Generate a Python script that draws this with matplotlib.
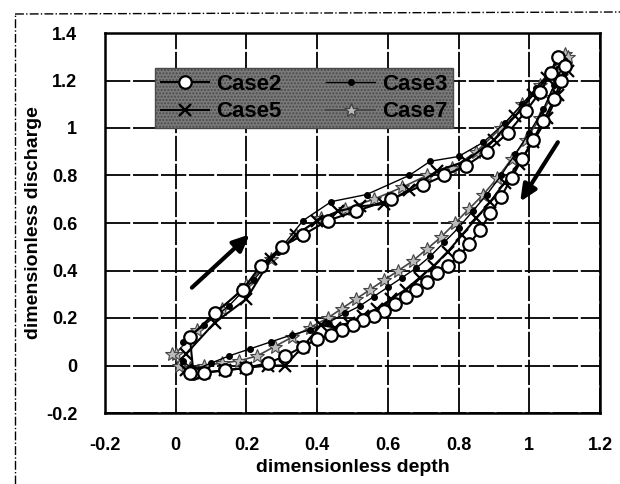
import matplotlib
matplotlib.use("Agg")
import matplotlib.pyplot as plt
from matplotlib.lines import Line2D

plt.rcParams['font.family'] = ['Liberation Sans', 'DejaVu Sans']
plt.rcParams['font.weight'] = 'bold'

# ---- data ----
case2_x = [0.05, 0.04, 0.11, 0.19, 0.24, 0.30, 0.36, 0.43, 0.51, 0.61, 0.70, 0.76, 0.82, 0.88, 0.94, 0.99, 1.03, 1.06, 1.08,
           1.10, 1.09, 1.07, 1.04, 1.01, 0.98, 0.95, 0.92, 0.89, 0.86, 0.83, 0.80, 0.77, 0.74, 0.71, 0.68, 0.65, 0.62,
           0.59, 0.56, 0.53, 0.50, 0.47, 0.44, 0.40, 0.36, 0.31, 0.26, 0.20, 0.14, 0.08, 0.04]
case2_y = [-0.03, 0.12, 0.22, 0.32, 0.42, 0.50, 0.55, 0.61, 0.65, 0.70, 0.76, 0.80, 0.84, 0.90, 0.98, 1.07, 1.15, 1.23, 1.30,
           1.26, 1.20, 1.12, 1.03, 0.95, 0.87, 0.79, 0.71, 0.64, 0.57, 0.51, 0.46, 0.42, 0.39, 0.35, 0.32, 0.29, 0.26,
           0.23, 0.21, 0.19, 0.17, 0.15, 0.13, 0.11, 0.08, 0.04, 0.01, -0.01, -0.02, -0.03, -0.03]

case3_x = [0.02, 0.08, 0.15, 0.22, 0.29, 0.36, 0.44, 0.54, 0.66, 0.72, 0.80, 0.87, 0.93, 0.98, 1.02, 1.06, 1.09,
           1.10, 1.07, 1.04, 1.00, 0.96, 0.92, 0.88, 0.84, 0.80, 0.76, 0.72, 0.68, 0.64, 0.60, 0.56, 0.52, 0.48,
           0.43, 0.38, 0.33, 0.27, 0.21, 0.15, 0.10, 0.05, 0.02]
case3_y = [0.10, 0.17, 0.25, 0.36, 0.48, 0.61, 0.69, 0.72, 0.80, 0.86, 0.88, 0.94, 1.02, 1.10, 1.17, 1.24, 1.30,
           1.28, 1.18, 1.08, 0.98, 0.89, 0.80, 0.72, 0.65, 0.58, 0.52, 0.46, 0.41, 0.37, 0.33, 0.29, 0.25, 0.22,
           0.18, 0.15, 0.13, 0.10, 0.07, 0.04, 0.01, -0.02, 0.02]

case5_x = [0.03, 0.11, 0.20, 0.27, 0.34, 0.40, 0.46, 0.52, 0.59, 0.66, 0.74, 0.82, 0.90, 0.96, 1.01, 1.05, 1.09,
           1.11, 1.08, 1.05, 1.01, 0.97, 0.93, 0.89, 0.85, 0.81, 0.77, 0.73, 0.69, 0.65, 0.61, 0.57, 0.53, 0.49,
           0.45, 0.41, 0.36, 0.31, 0.26, 0.20, 0.14, 0.08, 0.03]
case5_y = [0.05, 0.18, 0.28, 0.45, 0.55, 0.61, 0.65, 0.67, 0.68, 0.74, 0.82, 0.86, 0.95, 1.05, 1.14, 1.21, 1.27,
           1.24, 1.14, 1.04, 0.94, 0.85, 0.77, 0.69, 0.62, 0.55, 0.48, 0.42, 0.37, 0.32, 0.28, 0.24, 0.21, 0.18,
           0.16, 0.17, 0.08, 0.00, 0.00, -0.01, -0.02, -0.03, -0.02]

case7_x = [0.00, 0.06, 0.13, 0.20, 0.27, 0.34, 0.41, 0.48, 0.56, 0.64, 0.71, 0.78, 0.85, 0.92, 0.98, 1.03, 1.07, 1.10,
           1.11, 1.09, 1.06, 1.03, 0.99, 0.95, 0.91, 0.87, 0.83, 0.79, 0.75, 0.71, 0.67, 0.63, 0.59, 0.55, 0.51,
           0.47, 0.43, 0.38, 0.33, 0.28, 0.23, 0.18, 0.13, 0.08, 0.04, 0.01, -0.01]
case7_y = [0.05, 0.15, 0.24, 0.34, 0.45, 0.55, 0.62, 0.66, 0.70, 0.75, 0.80, 0.83, 0.90, 1.00, 1.10, 1.18, 1.25, 1.31,
           1.30, 1.22, 1.13, 1.04, 0.95, 0.87, 0.79, 0.72, 0.66, 0.60, 0.54, 0.49, 0.44, 0.40, 0.36, 0.32, 0.28,
           0.24, 0.20, 0.16, 0.12, 0.08, 0.04, 0.02, 0.01, 0.00, -0.01, 0.00, 0.05]

x_ticks = [-0.2, 0, 0.2, 0.4, 0.6, 0.8, 1, 1.2]
y_ticks = [-0.2, 0, 0.2, 0.4, 0.6, 0.8, 1, 1.2, 1.4]
x_tick_labels = ['-0.2', '0', '0.2', '0.4', '0.6', '0.8', '1', '1.2']
y_tick_labels = ['-0.2', '0', '0.2', '0.4', '0.6', '0.8', '1', '1.2', '1.4']

# ---- figure ----
fig = plt.figure(figsize=(6.2, 4.84), dpi=100)
ax = fig.add_axes([105/620, 71/484, 495/620, 380/484])

# scanned page border (dash-dot) on left and top
fig.add_artist(Line2D([15/620, 15/620], [0, 1 - 14/484], transform=fig.transFigure,
                      color='black', lw=1, ls='-.'))
fig.add_artist(Line2D([15/620, 1], [1 - 14/484, 1 - 12/484], transform=fig.transFigure,
                      color='black', lw=1, ls='-.'))

ax.plot(case7_x, case7_y, color='#444444', lw=1.2, marker='*', ms=10, mfc='#bbbbbb', mec='#444444', mew=0.8, zorder=3)
ax.plot(case5_x, case5_y, color='black', lw=1.5, marker='x', ms=9, mew=1.6, zorder=4)
ax.plot(case3_x, case3_y, color='black', lw=1.0, marker='o', ms=4, mfc='black', mec='black', zorder=5)
ax.plot(case2_x, case2_y, color='black', lw=1.5, marker='o', ms=9, mfc='white', mec='black', mew=1.6, zorder=6)

# arrows
ax.annotate('', xy=(0.215, 0.56), xytext=(0.04, 0.32),
            arrowprops=dict(arrowstyle='-|>,head_length=1.0,head_width=0.45', color='black', lw=3))
ax.annotate('', xy=(0.97, 0.68), xytext=(1.085, 0.95),
            arrowprops=dict(arrowstyle='-|>,head_length=1.0,head_width=0.45', color='black', lw=3))

ax.set_xlim(-0.2, 1.2)
ax.set_ylim(-0.2, 1.4)
ax.set_xticks(x_ticks)
ax.set_xticklabels(x_tick_labels)
ax.set_yticks(y_ticks)
ax.set_yticklabels(y_tick_labels)
ax.grid(True, color='black', lw=1.3, ls=(0, (14, 1.5)))
ax.set_axisbelow(True)
ax.tick_params(length=0, labelsize=13, pad=20)
ax.tick_params(axis='x', pad=17)
for lab in ax.get_xticklabels() + ax.get_yticklabels():
    lab.set_fontweight('bold')
for s in ax.spines.values():
    s.set_linewidth(1.8)

ax.set_xlabel('dimensionless depth', fontsize=14, fontweight='bold', labelpad=4)
ax.set_ylabel('dimensionless discharge', fontsize=14, fontweight='bold', labelpad=3)

h2 = Line2D([], [], color='black', lw=1.5, marker='o', ms=9, mfc='white', mec='black', mew=1.6)
h3 = Line2D([], [], color='black', lw=1.0, marker='o', ms=4, mfc='black')
h5 = Line2D([], [], color='black', lw=1.5, marker='x', ms=9, mew=1.6)
h7 = Line2D([], [], color='#444444', lw=1.2, marker='*', ms=10, mfc='#bbbbbb', mec='#444444')
leg = ax.legend([h2, h5, h3, h7], ['Case2', 'Case5', 'Case3', 'Case7'], ncol=2,
                loc='lower left', bbox_to_anchor=(0.101, 0.75, 0.602, 0.213), mode='expand',
                fontsize=16, frameon=True, fancybox=False, borderaxespad=0,
                handlelength=2.2, handletextpad=0.3, columnspacing=0.8, borderpad=0.25, labelspacing=0.3)
fr = leg.get_frame()
fr.set_facecolor('#7a7a7a')
fr.set_edgecolor('#4a4a4a')
fr.set_alpha(1)
fr.set_hatch('.....')
for t in leg.get_texts():
    t.set_fontweight('bold')
leg.set_zorder(10)

fig.savefig('out.png', dpi=100)
